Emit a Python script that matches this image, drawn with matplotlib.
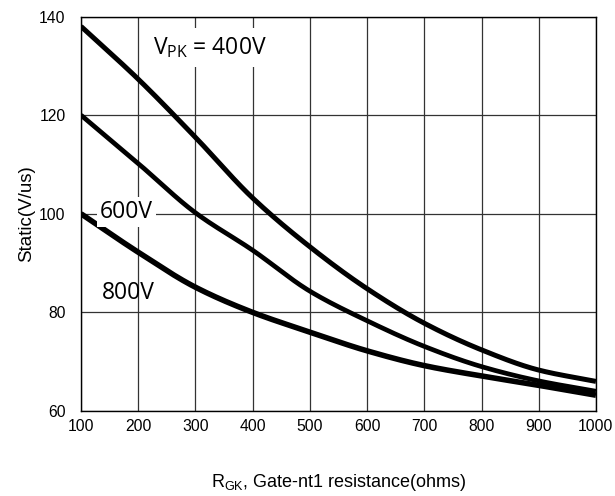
import numpy as np
import matplotlib
matplotlib.use("Agg")
import matplotlib.pyplot as plt

# Gate-cathode resistance (ohms) and static dv/dt (V/us) for three peak voltages
r_gk = [100, 200, 300, 400, 500, 600, 700, 800, 900, 1000]
dvdt_400v = [138.0, 127.3, 115.5, 103.2, 93.3, 84.8, 77.8, 72.4, 68.3, 66.0]
dvdt_600v = [120.0, 110.2, 100.2, 92.6, 84.3, 78.3, 73.1, 69.0, 66.1, 64.0]
dvdt_800v = [100.0, 92.2, 85.1, 80.0, 76.0, 72.2, 69.2, 67.1, 65.2, 63.2]

x_ticks = [100, 200, 300, 400, 500, 600, 700, 800, 900, 1000]
y_ticks = [60, 80, 100, 120, 140]


def pchip(x, y, xs):
    """Monotone cubic Hermite curve through (x, y), evaluated at xs."""
    x = np.asarray(x, float)
    y = np.asarray(y, float)
    h = np.diff(x)
    d = np.diff(y) / h
    m = np.zeros_like(y)
    for k in range(1, len(x) - 1):
        if d[k - 1] * d[k] > 0:
            w1 = 2 * h[k] + h[k - 1]
            w2 = h[k] + 2 * h[k - 1]
            m[k] = (w1 + w2) / (w1 / d[k - 1] + w2 / d[k])
    m[0] = d[0]
    m[-1] = d[-1]
    idx = np.clip(np.searchsorted(x, xs) - 1, 0, len(x) - 2)
    t = (xs - x[idx]) / h[idx]
    h00 = 2 * t**3 - 3 * t**2 + 1
    h10 = t**3 - 2 * t**2 + t
    h01 = -2 * t**3 + 3 * t**2
    h11 = t**3 - t**2
    return (h00 * y[idx] + h10 * h[idx] * m[idx]
            + h01 * y[idx + 1] + h11 * h[idx] * m[idx + 1])


fig = plt.figure(figsize=(6.15, 4.96), dpi=100)
ax = fig.add_axes([0.1317, 0.1714, 0.8373, 0.7953])

xs = np.linspace(r_gk[0], r_gk[-1], 400)
for series, lw in ((dvdt_400v, 3.6), (dvdt_600v, 3.4), (dvdt_800v, 4.0)):
    ax.plot(xs, pchip(r_gk, series, xs), color="black", lw=lw,
            solid_capstyle="butt", zorder=3)

ax.set_xlim(100, 1000)
ax.set_ylim(60, 140)
ax.set_xticks(x_ticks)
ax.set_yticks(y_ticks)
ax.grid(True, color="#333333", lw=0.9)
ax.set_axisbelow(True)
for s in ax.spines.values():
    s.set_color("black")
    s.set_linewidth(1.0)

ax.tick_params(length=0, pad=6)
ax.tick_params(axis="y", pad=11)
for lab in ax.get_xticklabels() + ax.get_yticklabels():
    lab.set_fontfamily("Liberation Sans")
    lab.set_fontsize(11.3)

ax.set_ylabel("Static(V/us)", fontfamily="Liberation Sans", fontsize=13.5,
              labelpad=3)
ax.set_xlabel(r"R$_\mathregular{GK}$, Gate-nt1 resistance(ohms)",
              fontfamily="Liberation Sans", fontsize=13, labelpad=27)

lab_font = dict(family="Open Sans", size=16.5, color="black", zorder=4)
box = dict(facecolor="white", edgecolor="none", pad=2)
ax.text(0.1405, 0.922, r"V$_\mathregular{PK}$ = 400V", transform=ax.transAxes,
        ha="left", va="center", bbox=dict(facecolor="white", edgecolor="none",
                                          pad=5), **lab_font)
ax.text(0.037, 0.505, "600V", transform=ax.transAxes, ha="left",
        va="center", bbox=box, **lab_font)
ax.text(0.040, 0.300, "800V", transform=ax.transAxes, ha="left",
        va="center", **lab_font)

fig.savefig("out.png", dpi=100)
